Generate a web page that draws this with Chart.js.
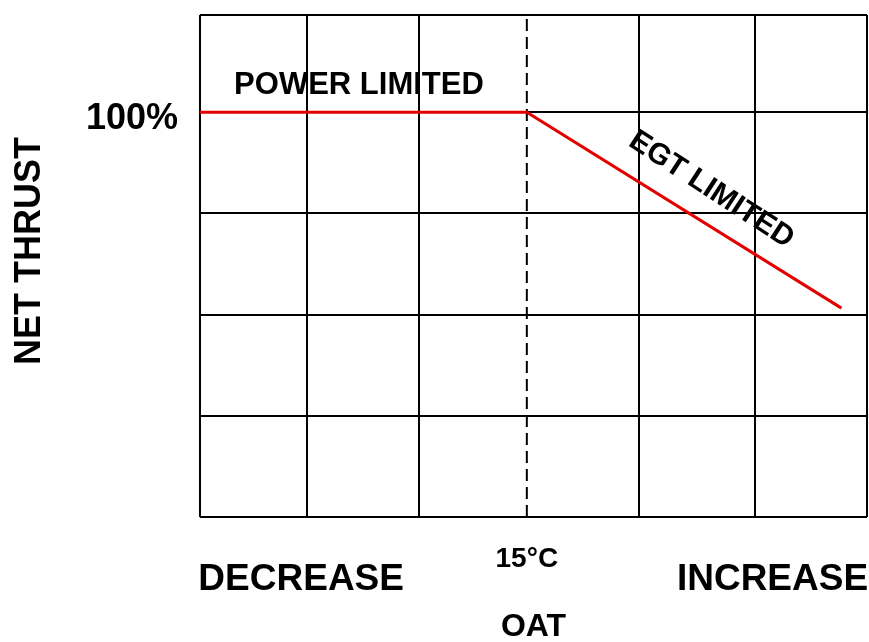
<!DOCTYPE html>
<html lang="en">
<head>
<meta charset="UTF-8">
<title>Net thrust vs OAT</title>
<script src="https://cdn.jsdelivr.net/npm/chart.js"></script>
<style>
    body { margin: 0; background: #fff; }
    #wrap { width: 869px; height: 642px; }
</style>
</head>
<body>
<div id="wrap"><canvas id="thrustChart" width="869" height="642"></canvas></div>
<script>
    // thrust line (x in grid columns, y in % of max thrust)
    const oatX = [0, 2.94, 5.77];
    const thrustY = [100, 100, 51.6];

    // grid lines
    const gridX = [0, 0.963, 1.97, 3.95, 4.99, 6];
    const gridY = [0, 25, 50, 75, 100, 124];

    // bottom labels
    const oatLabelX = [0.91, 2.94, 5.15];
    const oatLabels = ['DECREASE', '15°C', 'INCREASE'];

    const fontFamily = "'Liberation Sans', Arial, sans-serif";

    // free text on the chart
    const notes = [
        { text: 'POWER LIMITED', x: 1.43, y: 106.5, size: 31, angle: 0 },
        { text: 'EGT LIMITED', x: 4.6, y: 80.8, size: 30, angle: 33 }
    ];

    const textPlugin = {
        id: 'chartText',
        afterDatasetsDraw(chart) {
            const ctx = chart.ctx;
            const xs = chart.scales.x, ys = chart.scales.y;
            ctx.save();
            ctx.fillStyle = '#000';
            ctx.textAlign = 'center';
            ctx.textBaseline = 'middle';
            notes.forEach(n => {
                ctx.save();
                ctx.translate(xs.getPixelForValue(n.x), ys.getPixelForValue(n.y));
                ctx.rotate(n.angle * Math.PI / 180);
                ctx.font = `bold ${n.size}px ${fontFamily}`;
                ctx.fillText(n.text, 0, 0);
                ctx.restore();
            });
            // y axis title
            ctx.translate(30, 251);
            ctx.rotate(-Math.PI / 2);
            ctx.font = `bold 36px ${fontFamily}`;
            ctx.fillText('NET THRUST', 0, 0);
            ctx.restore();
        }
    };

    function noPad(s) {
        s.paddingLeft = 0; s.paddingRight = 0; s.paddingTop = 0; s.paddingBottom = 0;
    }

    const ctx = document.getElementById('thrustChart').getContext('2d');
    new Chart(ctx, {
        type: 'line',
        data: {
            datasets: [{
                data: oatX.map((x, i) => ({ x: x, y: thrustY[i] })),
                borderColor: '#e40000',
                borderWidth: 3,
                pointRadius: 0,
                order: 0
            }, {
                data: [{ x: oatX[1], y: gridY[0] }, { x: oatX[1], y: gridY[gridY.length - 1] }],
                borderColor: '#000',
                borderWidth: 2,
                borderDash: [12, 6],
                pointRadius: 0,
                order: 1
            }]
        },
        options: {
            responsive: false,
            animation: false,
            layout: { padding: { top: 15, right: 2, left: 0, bottom: 0 } },
            plugins: { legend: { display: false }, tooltip: { enabled: false } },
            scales: {
                x: {
                    type: 'linear',
                    position: 'bottom',
                    weight: 0,
                    min: 0, max: 6,
                    afterBuildTicks: s => { s.ticks = gridX.map(v => ({ value: v })); },
                    afterFit: s => { s.height = 0; noPad(s); },
                    grid: { color: '#000', lineWidth: 2, drawTicks: false },
                    border: { display: false },
                    ticks: { display: false }
                },
                xl: {
                    type: 'linear',
                    position: 'bottom',
                    weight: 1,
                    min: 0, max: 6,
                    afterBuildTicks: s => { s.ticks = oatLabelX.map(v => ({ value: v })); },
                    afterFit: s => { s.height = 125; noPad(s); },
                    grid: { display: false, drawTicks: false },
                    border: { display: false },
                    ticks: {
                        autoSkip: false,
                        maxRotation: 0,
                        padding: 28,
                        color: '#000',
                        callback: (v, i) => oatLabels[i],
                        font: c => c.index === 1
                            ? { family: fontFamily, weight: 'bold', size: 28, lineHeight: '28px' }
                            : { family: fontFamily, weight: 'bold', size: 37, lineHeight: '70px' }
                    },
                    title: {
                        display: true,
                        text: 'OAT',
                        color: '#000',
                        font: { family: fontFamily, weight: 'bold', size: 32, lineHeight: 1 },
                        padding: { top: 0, bottom: -1 }
                    }
                },
                y: {
                    type: 'linear',
                    min: gridY[0], max: gridY[gridY.length - 1],
                    afterBuildTicks: s => { s.ticks = gridY.map(v => ({ value: v })); },
                    afterFit: s => { s.width = 200; noPad(s); },
                    grid: { color: '#000', lineWidth: 2, drawTicks: false },
                    border: { display: false },
                    ticks: {
                        padding: 22,
                        labelOffset: 7,
                        color: '#000',
                        font: { family: fontFamily, weight: 'bold', size: 36 },
                        callback: v => v === 100 ? '100%' : ''
                    }
                }
            }
        },
        plugins: [textPlugin]
    });
</script>
</body>
</html>
